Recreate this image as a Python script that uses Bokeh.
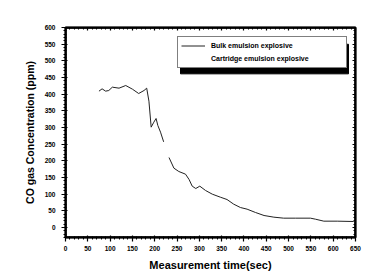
import numpy as np
from bokeh.plotting import figure
from bokeh.models import (LinearAxis, Legend, LegendItem, Range1d, FixedTicker)
from bokeh.embed import file_html
from bokeh.resources import INLINE

# ---- data ----
time_sec = [75, 82, 90, 97, 105, 120, 135, 150, 164, 176, 182, 187, 192, 198,
            203, 207, 213, 220, np.nan, 232, 243, 254, 269, 277, 284, 292, 301,
            314, 329, 347, 362, 377, 392, 407, 426, 445, 467, 489, 516, 549,
            560, 579, 609, 646]
bulk_ppm = [409, 416, 409, 411, 421, 418, 426, 415, 402, 411, 418, 379, 301,
            316, 327, 306, 286, 257, np.nan, 210, 178, 168, 160, 144, 124, 117,
            124, 111, 100, 91, 84, 70, 60, 55, 45, 36, 31, 28, 28, 28, 25, 19,
            19, 18]
x_ticks = list(range(0, 651, 50))
y_ticks = list(range(0, 601, 50))
series_names = ["Bulk emulsion explosive", "Cartridge emulsion explosive"]

X0, X1 = 0, 650
Y0, Y1 = -30, 600
FW, FH = 290, 213   # frame size in px
ML, MR, MT, MB = 65, 21, 27, 33

p = figure(width=ML + FW + MR, height=MT + FH + MB, output_backend="svg",
           toolbar_location=None, x_range=Range1d(X0, X1),
           y_range=Range1d(Y0, Y1), min_border_left=ML, min_border_right=MR,
           min_border_top=MT, min_border_bottom=MB)
p.xgrid.visible = False
p.ygrid.visible = False
p.outline_line_color = "black"
p.outline_line_width = 2
p.background_fill_color = None
p.border_fill_color = None

FONT = "Liberation Sans"

def style_axis(ax, ticks, labels=True, inward=False):
    minor = [int(v) for v in range(ticks[0] - 50, ticks[-1] + 51, 10)]
    ax.ticker = FixedTicker(ticks=ticks, minor_ticks=minor)
    ax.axis_line_color = "black"
    ax.axis_line_width = 1.5
    ax.major_tick_line_color = "black"
    ax.minor_tick_line_color = "black"
    ax.major_tick_line_width = 1.2
    if inward:
        ax.major_tick_in, ax.major_tick_out = 3, 0
        ax.minor_tick_in, ax.minor_tick_out = 2, 0
    else:
        ax.major_tick_in, ax.major_tick_out = 2, 4
        ax.minor_tick_in, ax.minor_tick_out = 1, 2
    ax.major_label_text_font = FONT
    ax.major_label_text_font_style = "bold"
    ax.major_label_text_font_size = "6.5px"
    ax.major_label_text_color = "black"
    if not labels:
        ax.major_label_text_color = None
        ax.major_label_standoff = 0

xa = p.xaxis[0]
ya = p.yaxis[0]
style_axis(xa, x_ticks)
style_axis(ya, y_ticks)
xa.major_label_standoff = 4
ya.major_label_standoff = 6
xa.axis_label = "Measurement time(sec)"
ya.axis_label = "CO gas Concentration (ppm)"
for ax, sz in ((xa, "11px"), (ya, "10.5px")):
    ax.axis_label_text_font = FONT
    ax.axis_label_text_font_style = "bold"
    ax.axis_label_text_font_size = sz
    ax.axis_label_text_color = "black"
xa.axis_label_standoff = 5
ya.axis_label_standoff = 6

top = LinearAxis()
style_axis(top, x_ticks, labels=False, inward=True)
p.add_layout(top, "above")
right = LinearAxis()
style_axis(right, y_ticks, labels=False, inward=True)
p.add_layout(right, "right")

# plot frame drawn explicitly as well (half of the stroke falls inside)
p.quad(left=X0, right=X1, bottom=Y0, top=Y1, fill_color=None,
       line_color="black", line_width=2.5)

# legend geometry (screen px)
LPAD, GW, LSTAND, LW, LH, LSP = 3, 24, 6, 132, 11, 2
LEG_W = LPAD + GW + LSTAND + LW + LPAD
LEG_H = 2 * LH + LSP + 2 * LPAD
LX, LY = 112, 169
SH = 3
sx = (X1 - X0) / FW
sy = (Y1 - Y0) / FH
p.quad(left=X0 + (LX + SH) * sx, right=X0 + (LX + LEG_W + SH) * sx,
       bottom=Y0 + (LY - SH) * sy, top=Y0 + (LY + LEG_H - SH) * sy,
       fill_color="black", line_color="black")

r1 = p.line(time_sec, bulk_ppm, line_color="#222222", line_width=1)
r2 = p.line([np.nan], [np.nan], line_color="white", line_alpha=0)

legend = Legend(items=[LegendItem(label=series_names[0], renderers=[r1]),
                       LegendItem(label=series_names[1], renderers=[r2])],
                location=(LX, LY))
legend.padding = LPAD
legend.margin = 0
legend.spacing = LSP
legend.glyph_width = GW
legend.glyph_height = LH
legend.label_height = LH
legend.label_width = LW
legend.label_standoff = LSTAND
legend.label_text_font = FONT
legend.label_text_font_style = "bold"
legend.label_text_font_size = "7px"
legend.label_text_color = "black"
legend.border_line_color = "black"
legend.border_line_width = 1
legend.background_fill_color = "white"
legend.background_fill_alpha = 1
p.add_layout(legend, "center")

open("out.html", "w").write(file_html(p, INLINE))
